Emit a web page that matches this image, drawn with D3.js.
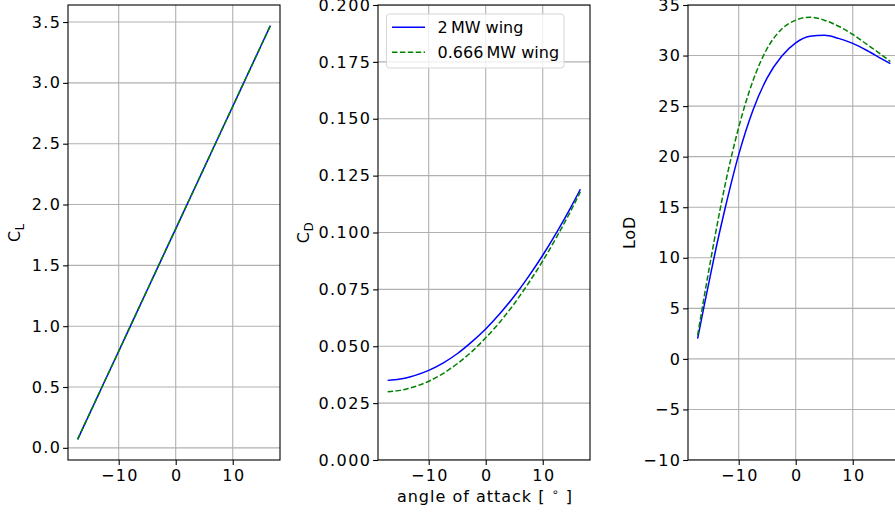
<!DOCTYPE html>
<html><head><meta charset="utf-8">
<script src="https://cdn.jsdelivr.net/npm/d3@7"></script>
<style>body{margin:0;background:#fff}svg{display:block}text{font-family:"DejaVu Sans",sans-serif;fill:#000}</style>
</head><body><svg id="c" width="895" height="516"></svg>
<script>
const angles = [-17.2, -16, -15, -14, -12.5, -10, -7.5, -5, -2.5, 0, 2.5, 5, 7.5, 10, 12.5, 15, 16.6];
const cl2MW   = [0.070, 0.191, 0.291, 0.392, 0.543, 0.794, 1.046, 1.297, 1.549, 1.800, 2.052, 2.303, 2.555, 2.806, 3.058, 3.309, 3.470];
const cl066MW = [0.070, 0.191, 0.291, 0.392, 0.543, 0.794, 1.046, 1.297, 1.549, 1.800, 2.052, 2.303, 2.555, 2.806, 3.058, 3.309, 3.470];
const cd2MW   = [0.0350, 0.03525, 0.0356, 0.03607, 0.0371, 0.0394, 0.0426, 0.0467, 0.0518, 0.0576, 0.0644, 0.0720, 0.0806, 0.0900, 0.1003, 0.1114, 0.1190];
const cd066MW = [0.0300, 0.03027, 0.0306, 0.03112, 0.0322, 0.0346, 0.0380, 0.0423, 0.0475, 0.0537, 0.0607, 0.0687, 0.0777, 0.0875, 0.0983, 0.1099, 0.1179];
const lod2MW   = [2.0, 5.42, 8.17, 10.87, 14.6, 20.2, 24.6, 27.8, 29.9, 31.25, 31.9, 32.0, 31.7, 31.2, 30.5, 29.7, 29.2];
const lod066MW = [2.33, 6.31, 9.5, 12.6, 16.9, 22.9, 27.5, 30.7, 32.6, 33.5, 33.8, 33.5, 32.9, 32.1, 31.1, 30.1, 29.4];
const xTicks = [-10, 0, 10];
const clTicks = [0, 0.5, 1.0, 1.5, 2.0, 2.5, 3.0, 3.5];
const cdTicks = [0, 0.025, 0.05, 0.075, 0.1, 0.125, 0.15, 0.175, 0.2];
const lodTicks = [-10, -5, 0, 5, 10, 15, 20, 25, 30, 35];
const seriesNames = ["2\u2009MW wing", "0.666\u2009MW wing"];

const svg = d3.select("#c");
const yTop = 5, yBot = 460, W = 212;
const xmin = d3.min(angles), xmax = d3.max(angles), pad = (xmax - xmin) * 0.05;
const clPad = (d3.max(cl2MW) - d3.min(cl2MW)) * 0.05;
const FS = 16;

const panels = [
  {x0: 68, ydom: [d3.min(cl2MW) - clPad, d3.max(cl2MW) + clPad], ticks: clTicks, fmt: d3.format(".1f"), a: cl2MW, b: cl066MW, label: ["C", "L"], labelX: 20},
  {x0: 378, ydom: [0, 0.2], ticks: cdTicks, fmt: d3.format(".3f"), a: cd2MW, b: cd066MW, label: ["C", "D"], labelX: 309, legend: true, xlabel: true},
  {x0: 688, ydom: [-10, 35], ticks: lodTicks, fmt: d3.format("d"), a: lod2MW, b: lod066MW, label: ["LoD"], labelX: 635}
];

panels.forEach((p, i) => {
  const x = d3.scaleLinear().domain([xmin - pad, xmax + pad]).range([p.x0, p.x0 + W]);
  const y = d3.scaleLinear().domain(p.ydom).range([yBot, yTop]);
  const g = svg.append("g");
  const clipId = "clip" + i;
  svg.append("clipPath").attr("id", clipId).append("rect").attr("x", p.x0).attr("y", yTop).attr("width", W).attr("height", yBot - yTop);
  const grid = g.append("g").attr("clip-path", `url(#${clipId})`);
  xTicks.forEach(t => grid.append("line").attr("x1", x(t)).attr("x2", x(t)).attr("y1", yTop).attr("y2", yBot).attr("stroke", "#b0b0b0").attr("stroke-width", 1.1));
  p.ticks.forEach(t => grid.append("line").attr("x1", p.x0).attr("x2", p.x0 + W).attr("y1", y(t)).attr("y2", y(t)).attr("stroke", "#b0b0b0").attr("stroke-width", 1.1));
  const line = arr => d3.line().x((d, k) => x(angles[k])).y(d => y(d)).curve(d3.curveMonotoneX)(arr);
  const lg = g.append("g").attr("clip-path", `url(#${clipId})`);
  lg.append("path").attr("d", line(p.a)).attr("fill", "none").attr("stroke", "#0000ff").attr("stroke-width", 1.5);
  lg.append("path").attr("d", line(p.b)).attr("fill", "none").attr("stroke", "#008000").attr("stroke-width", 1.5).attr("stroke-dasharray", "5.5,2.4");
  const xa = g.append("g").attr("transform", `translate(0,${yBot})`).call(d3.axisBottom(x).tickValues(xTicks).tickSize(4.9).tickPadding(4.5).tickFormat(d3.format("d")));
  const ya = g.append("g").attr("transform", `translate(${p.x0},0)`).call(d3.axisLeft(y).tickValues(p.ticks).tickSize(4.9).tickPadding(1.8).tickFormat(p.fmt));
  [xa, ya].forEach(a => { a.select(".domain").remove(); a.selectAll("text").style("font-size", FS + "px").style("letter-spacing", "1.4px").attr("fill", "#000").style("font-family", '"DejaVu Sans",sans-serif'); a.selectAll("line").attr("stroke", "#000").attr("stroke-width", 1.1); });
  xa.selectAll("text").attr("dx", "0.7px");
  g.append("rect").attr("x", p.x0).attr("y", yTop).attr("width", W).attr("height", yBot - yTop).attr("fill", "none").attr("stroke", "#000").attr("stroke-width", 1.1);
  const yl = g.append("text").attr("transform", `translate(${p.labelX},${(yTop + yBot) / 2}) rotate(-90)`).attr("text-anchor", "middle").style("font-size", FS + "px").style("letter-spacing", "0.8px");
  yl.append("tspan").text(p.label[0]);
  if (p.label[1]) yl.append("tspan").attr("dy", 4).style("font-size", "11.5px").text(p.label[1]);
  if (p.xlabel) {
    const xl = g.append("text").attr("x", p.x0 + W / 2 + 1).attr("y", 502.3).attr("text-anchor", "middle").style("font-size", FS + "px").style("letter-spacing", "1px");
    xl.append("tspan").text("angle of attack [ ");
    xl.append("tspan").attr("dy", -6).style("font-size", "11.5px").text("\u2218");
    xl.append("tspan").attr("dy", 6).text(" ]");
  }
  if (p.legend) {
    const L = g.append("g");
    L.append("rect").attr("x", 386.5).attr("y", 14).attr("width", 177.5).attr("height", 54).attr("rx", 3).attr("fill", "#fff").attr("fill-opacity", 0.8).attr("stroke", "#d6d6d6").attr("stroke-width", 1);
    const rows = [{c: "#0000ff", d: null, y: 27.3}, {c: "#008000", d: "5.5,2.4", y: 52.3}];
    rows.forEach((r, k) => {
      const ln = L.append("line").attr("x1", 392).attr("x2", 425).attr("y1", r.y).attr("y2", r.y).attr("stroke", r.c).attr("stroke-width", 1.5);
      if (r.d) ln.attr("stroke-dasharray", r.d);
      L.append("text").attr("x", 437.5).attr("y", r.y + 5.8).style("font-size", FS + "px").text(seriesNames[k]);
    });
  }
});
</script></body></html>
